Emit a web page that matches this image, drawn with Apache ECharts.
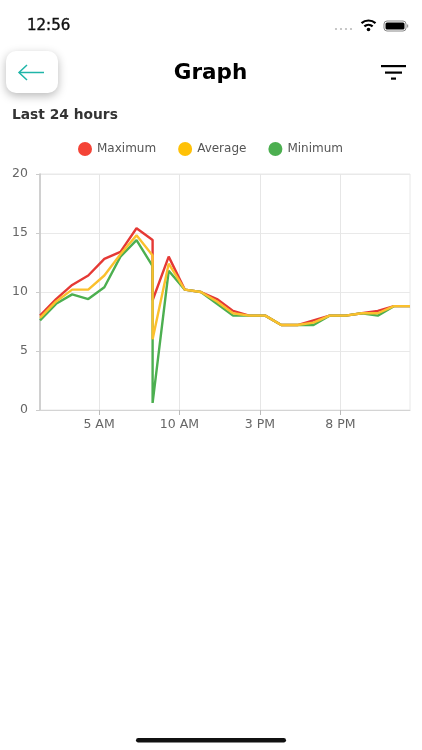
<!DOCTYPE html>
<html>
<head>
<meta charset="utf-8">
<style>
html, body { margin: 0; padding: 0; background: #fff; }
#main { width: 422px; height: 750px; }
</style>
<script src="https://cdn.jsdelivr.net/npm/echarts@6/dist/echarts.min.js"></script>
</head>
<body>
<div id="main"></div>
<script>
// hours since midnight, the drop around 8 AM has several readings at the same time
var hours = [1.33, 2.33, 3.33, 4.33, 5.33, 6.33, 7.33, 8.33, 8.33, 8.33, 9.33, 10.33, 11.33, 12.33, 13.33, 14.33, 15.33, 16.33, 17.33, 18.33, 19.33, 20.33, 21.33, 22.33, 23.33, 24.33];
var maximum = [8.0, 9.4, 10.6, 11.4, 12.8, 13.4, 15.4, 14.4, 9.3, 9.3, 13.0, 10.2, 10.0, 9.4, 8.4, 8.0, 8.0, 7.2, 7.2, 7.6, 8.0, 8.0, 8.2, 8.4, 8.8, 8.8];
var average = [7.8, 9.2, 10.2, 10.2, 11.4, 13.2, 14.8, 13.1, 6.0, 6.0, 12.4, 10.2, 10.0, 9.2, 8.2, 8.0, 8.0, 7.2, 7.2, 7.4, 8.0, 8.0, 8.2, 8.2, 8.8, 8.8];
var minimum = [7.6, 9.0, 9.8, 9.4, 10.4, 13.0, 14.4, 12.2, 5.9, 0.6, 11.8, 10.2, 10.0, 9.0, 8.0, 8.0, 8.0, 7.2, 7.2, 7.2, 8.0, 8.0, 8.2, 8.0, 8.8, 8.8];
var tickHours = [5, 10, 15, 20];
var tickLabels = ['5 AM', '10 AM', '3 PM', '8 PM'];
var seriesNames = ['Maximum', 'Average', 'Minimum'];

function pairs(values) {
    return values.map(function (v, i) { return [hours[i], v]; });
}

var font = '"DejaVu Sans"';
var myChart = echarts.init(document.getElementById('main'));

var option = {
    animation: false,
    backgroundColor: '#fff',
    textStyle: { fontFamily: 'DejaVu Sans' },
    color: ['#f44336', '#ffc107', '#4caf50'],
    legend: {
        data: seriesNames,
        top: 137,
        left: 73,
        icon: 'circle',
        itemWidth: 14,
        itemHeight: 14,
        itemGap: 22,
        textStyle: { color: '#555', fontSize: 12, fontFamily: 'DejaVu Sans' }
    },
    grid: {
        left: 40,
        right: 12,
        top: 174,
        height: 236,
        show: true,
        borderWidth: 1,
        borderColor: '#e8e8e8'
    },
    xAxis: {
        type: 'value',
        min: 1.33,
        max: 24.33,
        axisLine: { onZero: false, lineStyle: { color: '#d4d4d4', width: 1 } },
        axisTick: { length: 5, lineStyle: { color: '#bbb' }, customValues: tickHours },
        axisLabel: {
            color: '#666',
            fontSize: 12.5,
            margin: 8,
            customValues: tickHours,
            formatter: function (v) { return tickLabels[tickHours.indexOf(v)]; }
        },
        splitLine: { show: true, lineStyle: { color: '#e6e6e6', width: 1 } }
    },
    yAxis: {
        type: 'value',
        min: 0,
        max: 20,
        interval: 5,
        axisLine: { show: true, lineStyle: { color: '#c4c4c4', width: 1.5 } },
        axisTick: { show: true, length: 4, lineStyle: { color: '#ccc' } },
        axisLabel: { color: '#666', fontSize: 12.5, margin: 12 },
        splitLine: { show: true, lineStyle: { color: '#e9e9e9', width: 1 } }
    },
    series: [
        { name: 'Maximum', type: 'line', data: pairs(maximum), showSymbol: false, z: 2, lineStyle: { width: 2.4, color: '#e53935' }, itemStyle: { color: '#f44336' } },
        { name: 'Minimum', type: 'line', data: pairs(minimum), showSymbol: false, z: 3, lineStyle: { width: 2.4, color: '#4caf50' }, itemStyle: { color: '#4caf50' } },
        { name: 'Average', type: 'line', data: pairs(average), showSymbol: false, z: 4, lineStyle: { width: 2.4, color: '#fbc02d' }, itemStyle: { color: '#ffc107' } }
    ],
    // phone chrome around the chart
    graphic: [
        { type: 'text', x: 27, y: 26, style: { text: '12:56', font: '15px ' + font, fill: '#111', stroke: '#111', lineWidth: 0.4, verticalAlign: 'middle' } },
        { type: 'circle', shape: { cx: 336, cy: 29, r: 1.1 }, style: { fill: '#bbb' } },
        { type: 'circle', shape: { cx: 341, cy: 29, r: 1.1 }, style: { fill: '#bbb' } },
        { type: 'circle', shape: { cx: 346, cy: 29, r: 1.1 }, style: { fill: '#bbb' } },
        { type: 'circle', shape: { cx: 351, cy: 29, r: 1.1 }, style: { fill: '#bbb' } },
        // wifi
        { type: 'arc', shape: { cx: 368.5, cy: 31, r: 10.5, startAngle: -2.3, endAngle: -0.84 }, style: { stroke: '#000', lineWidth: 2.2, fill: null } },
        { type: 'arc', shape: { cx: 368.5, cy: 31, r: 6.2, startAngle: -2.3, endAngle: -0.84 }, style: { stroke: '#000', lineWidth: 2.2, fill: null } },
        { type: 'circle', shape: { cx: 368.5, cy: 29.5, r: 1.8 }, style: { fill: '#000' } },
        // battery
        { type: 'rect', shape: { x: 384, y: 21, width: 22, height: 10, r: 3 }, style: { fill: '#fff', stroke: '#888', lineWidth: 1 } },
        { type: 'rect', shape: { x: 385.5, y: 22.5, width: 19, height: 7, r: 1.5 }, style: { fill: '#000' } },
        { type: 'rect', shape: { x: 407, y: 24.5, width: 1.2, height: 3 }, style: { fill: '#999' } },
        // back button
        { type: 'rect', shape: { x: 6, y: 51, width: 52, height: 42, r: 10 }, style: { fill: '#fff', shadowBlur: 10, shadowColor: 'rgba(0,0,0,0.28)', shadowOffsetY: 3 } },
        { type: 'line', shape: { x1: 19, y1: 72.5, x2: 44, y2: 72.5 }, style: { stroke: '#1fb5a8', lineWidth: 1.5 } },
        { type: 'polyline', shape: { points: [[27, 65], [19, 72.5], [27, 80]] }, style: { stroke: '#1fb5a8', lineWidth: 1.5, fill: null } },
        { type: 'text', x: 210.5, y: 73.5, style: { text: 'Graph', font: '700 21.5px ' + font, fill: '#000', align: 'center', verticalAlign: 'middle' } },
        // filter icon
        { type: 'rect', shape: { x: 381, y: 65, width: 25, height: 2.2 }, style: { fill: '#000' } },
        { type: 'rect', shape: { x: 385, y: 71.5, width: 17, height: 2.2 }, style: { fill: '#000' } },
        { type: 'rect', shape: { x: 391, y: 77.5, width: 5, height: 2.2 }, style: { fill: '#000' } },
        { type: 'text', x: 12, y: 115, style: { text: 'Last 24 hours', font: '700 13.8px ' + font, fill: '#333', verticalAlign: 'middle' } },
        // home indicator
        { type: 'rect', shape: { x: 136, y: 738, width: 150, height: 4.5, r: 2.2 }, style: { fill: '#111' } }
    ]
};

myChart.setOption(option);
window.onresize = function () {
    myChart.resize();
};
</script>
</body>
</html>
